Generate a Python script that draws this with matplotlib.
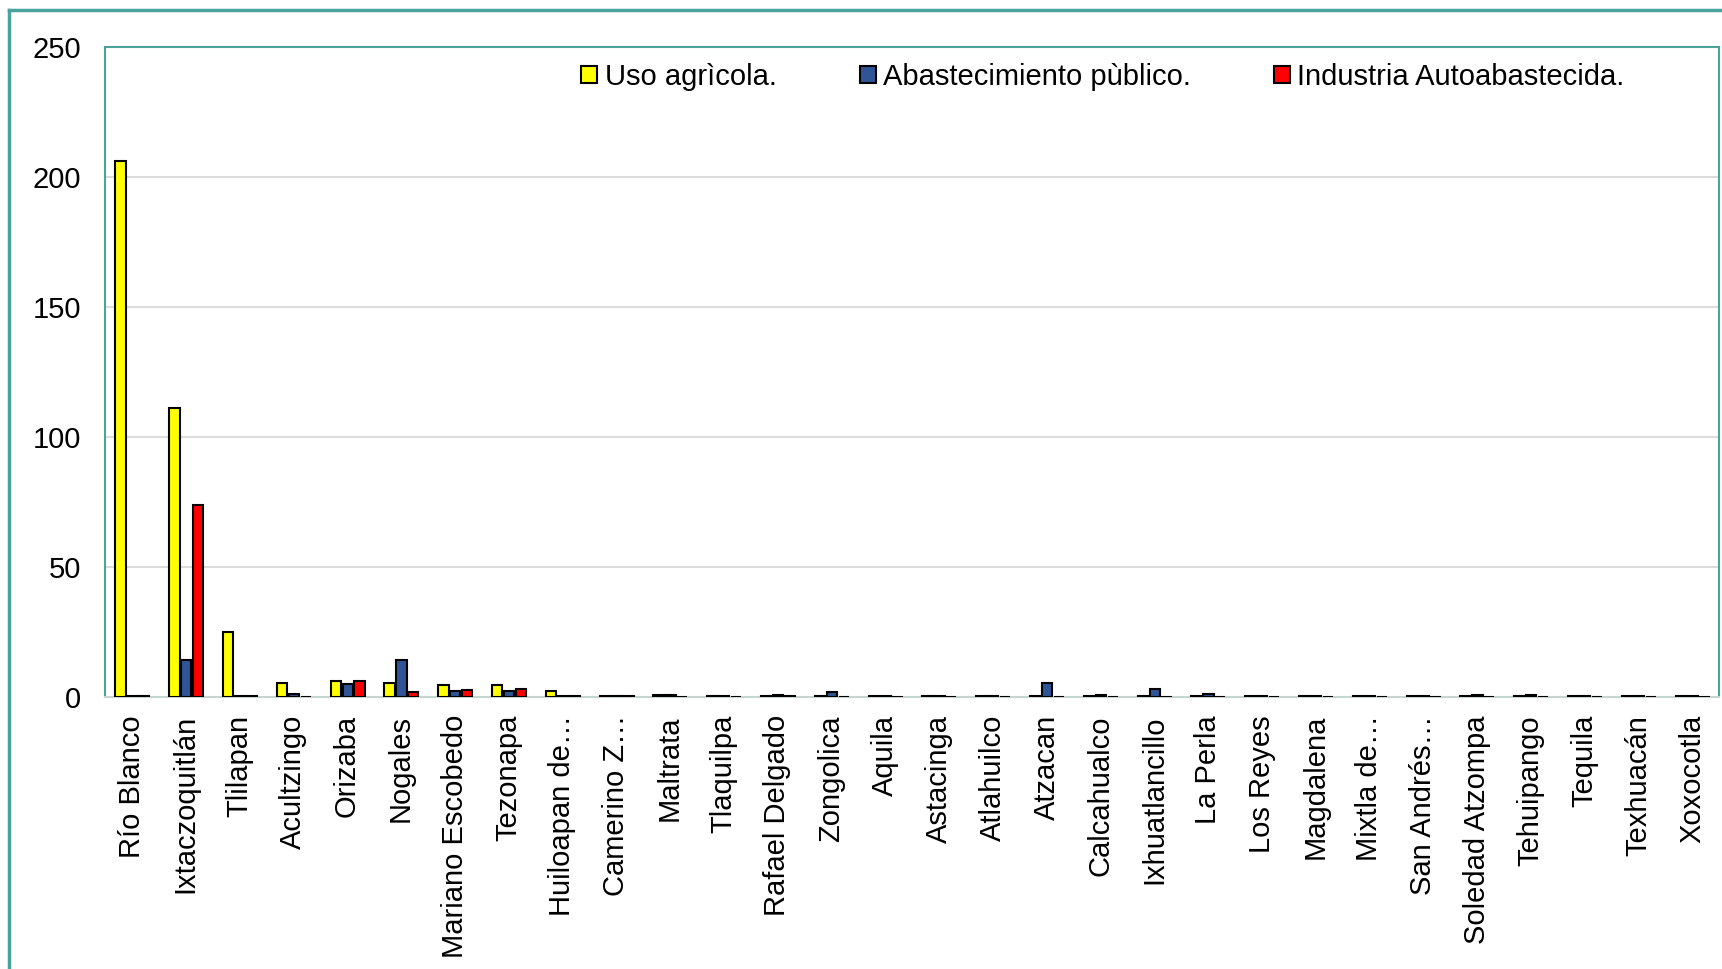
import matplotlib
matplotlib.use("Agg")
import matplotlib.pyplot as plt
import numpy as np
from matplotlib.lines import Line2D

plt.rcParams['font.family'] = ['Liberation Sans', 'DejaVu Sans']

municipios = ["Río Blanco", "Ixtaczoquitlán", "Tlilapan", "Acultzingo", "Orizaba",
              "Nogales", "Mariano Escobedo", "Tezonapa", "Huiloapan de…", "Camerino Z…",
              "Maltrata", "Tlaquilpa", "Rafael Delgado", "Zongolica", "Aquila",
              "Astacinga", "Atlahuilco", "Atzacan", "Calcahualco", "Ixhuatlancillo",
              "La Perla", "Los Reyes", "Magdalena", "Mixtla de…", "San Andrés…",
              "Soledad Atzompa", "Tehuipango", "Tequila", "Texhuacán", "Xoxocotla"]

uso_agricola = [206.0, 111.0, 25.0, 5.5, 6.3, 5.5, 4.6, 4.6, 2.2, 0.2,
                0.6, 0.2, 0.2, 0.2, 0.2, 0.2, 0.2, 0.2, 0.2, 0.2,
                0.2, 0.2, 0.2, 0.2, 0.2, 0.2, 0.2, 0.2, 0.2, 0.2]
abastecimiento = [0.2, 14.4, 0.2, 1.0, 5.0, 14.4, 2.2, 2.2, 0.2, 0.2,
                  0.8, 0.5, 0.6, 2.0, 0.2, 0.2, 0.3, 5.5, 0.6, 3.0,
                  1.3, 0.2, 0.2, 0.2, 0.2, 0.6, 0.7, 0.5, 0.2, 0.2]
industria = [0.2, 74.0, 0.2, 0.0, 6.0, 2.0, 2.6, 3.0, 0.2, 0.2,
             0.0, 0.0, 0.2, 0.0, 0.0, 0.0, 0.0, 0.0, 0.0, 0.0,
             0.0, 0.0, 0.0, 0.0, 0.0, 0.0, 0.0, 0.0, 0.0, 0.0]

teal = '#4AA39B'

fig = plt.figure(figsize=(17.22, 9.69), dpi=100)
ax = fig.add_axes([105 / 1722, 1 - 697 / 969, (1719 - 105) / 1722, 650 / 969])

x = np.arange(len(municipios))
w = 0.19
ax.bar(x - 0.21, uso_agricola, w, color='#FFFF00', edgecolor='black', linewidth=1.5,
       label='Uso agrìcola.', zorder=3)
ax.bar(x + 0.01, abastecimiento, w, color='#2F5597', edgecolor='black', linewidth=1.5,
       label='Abastecimiento pùblico.', zorder=3)
ax.bar(x + 0.23, industria, w, color='#FF0000', edgecolor='black', linewidth=1.5,
       label='Industria Autoabastecida.', zorder=3)

ax.set_xlim(-0.5, len(municipios) - 0.5)
ax.set_ylim(0, 250)
ax.set_yticks([0, 50, 100, 150, 200, 250])
ax.grid(axis='y', color='#D9D9D9', linewidth=1.3, zorder=0)
ax.set_xticks(x)
ax.set_xticklabels(municipios, rotation=90, fontsize=21)
ax.tick_params(axis='x', length=0, pad=13)
ax.tick_params(axis='y', length=0, pad=17, labelsize=21)

for s in ['top', 'left', 'right']:
    ax.spines[s].set_color(teal)
    ax.spines[s].set_linewidth(1.5)
ax.spines['bottom'].set_color('#C5D5D2')
ax.spines['bottom'].set_linewidth(1.5)

ax.legend(loc='center left', bbox_to_anchor=(0.286, 0.954), ncol=3, frameon=False,
          fontsize=21, borderpad=0, handlelength=0.55, handleheight=0.55,
          handletextpad=0.25, columnspacing=2.85)

# outer chart frame (only top and left edges are within the picture)
fig.add_artist(Line2D([9 / 1722, 9 / 1722], [0, 1 - 10 / 969], color=teal, linewidth=2.5))
fig.add_artist(Line2D([9 / 1722, 1], [1 - 10 / 969, 1 - 10 / 969], color=teal, linewidth=2.5))

fig.savefig('out.png', dpi=100)
